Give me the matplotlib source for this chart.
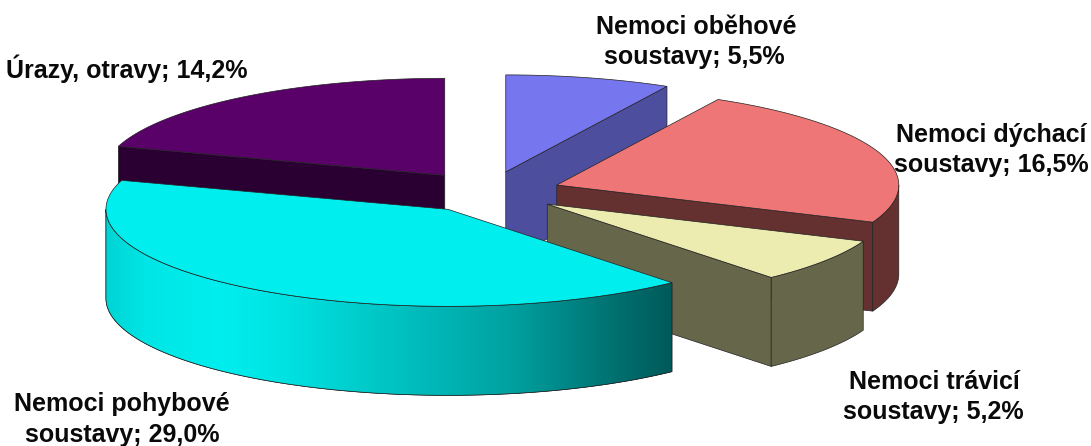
import numpy as np
import matplotlib
matplotlib.use('Agg')
import matplotlib.pyplot as plt
from matplotlib.colors import LinearSegmentedColormap
from matplotlib.patches import Polygon

# clockwise from 12 o'clock, drawing order is fixed below
names = ['Nemoci oběhové soustavy', 'Nemoci dýchací soustavy', 'Nemoci trávicí soustavy',
         'Nemoci pohybové soustavy', 'Úrazy, otravy']
values = [5.5, 16.5, 5.2, 29.0, 14.2]
top_colors = ['#7676EE', '#EE7676', '#ECECB0', '#00EEEE', '#590069']
side_colors = ['#4E4E9F', '#643030', '#66664A', '#007070', '#2A0033']
draw_order = [0, 4, 1, 2, 3]

# label lines and where they sit (pixels)
label_lines = [['Nemoci oběhové', 'soustavy; 5,5%'],
               ['Nemoci dýchací', 'soustavy; 16,5%'],
               ['Nemoci trávicí', 'soustavy; 5,2%'],
               ['Nemoci pohybové', 'soustavy; 29,0%'],
               ['Úrazy, otravy; 14,2%']]
label_pos = [[(696, 27), (694, 57)],
             [(991, 135), (991, 165)],
             [(934, 382), (933, 412)],
             [(122, 404), (122, 435)],
             [(127, 69)]]

CX, CY = 488, 192
A, B = 342, 97
DEPTH = 89
EXPLODE = 0.2136

wall_cmap = LinearSegmentedColormap.from_list('wall', [(0, '#00D4D4'), (0.07, '#00E6E6'), (0.2, '#00EEEE'),
                                                       (0.3, '#00E4E4'), (0.5, '#00C4C4'), (0.72, '#00A0A0'),
                                                       (0.9, '#007070'), (1, '#005A5A')])

fig = plt.figure(figsize=(10.91, 4.46), dpi=100)
ax = fig.add_axes([0, 0, 1, 1])


def arc(x0, y0, t1, t2, n=120):
    t = np.radians(np.linspace(t1, t2, n))
    return x0 + A*np.sin(t), y0 - B*np.cos(t)


angles = np.cumsum([0] + values) / sum(values) * 360
ec = '#222222'
z = 1
for i in draw_order:
    t1, t2 = angles[i], angles[i+1]
    mid = np.radians((t1 + t2) / 2)
    x0 = CX + EXPLODE*A*np.sin(mid)
    y0 = CY - EXPLODE*B*np.cos(mid)
    top_x, top_y = arc(x0, y0, t1, t2)

    # straight side walls
    for t, visible in [(t1, 180 < t1 < 360), (t2, 0 < t2 < 180)]:
        if visible:
            px, py = arc(x0, y0, t, t, 1)
            pts = [(x0, y0), (px[0], py[0]), (px[0], py[0]+DEPTH), (x0, y0+DEPTH)]
            ax.add_patch(Polygon(pts, fc=side_colors[i], ec=ec, lw=0.5, zorder=z))
            z += 1

    # outer wall, only the part facing us
    w1, w2 = max(t1, 90), min(t2, 270)
    if w1 < w2:
        wx, wy = arc(x0, y0, w1, w2)
        pts = np.r_[np.c_[wx, wy], np.c_[wx[::-1], wy[::-1]+DEPTH]]
        wall = Polygon(pts, fc=side_colors[i], ec=ec, lw=0.5, zorder=z)
        ax.add_patch(wall)
        if i == 3:
            # cyan slice has a shaded wall
            img = ax.imshow(np.linspace(0, 1, 256).reshape(1, -1), cmap=wall_cmap, aspect='auto',
                            extent=(wx.min(), wx.max(), 446, 0), zorder=z+0.5)
            img.set_clip_path(wall)
            ax.add_patch(Polygon(pts, fc='none', ec=ec, lw=0.5, zorder=z+0.6))
        z += 1

    # top face
    pts = np.r_[[(x0, y0)], np.c_[top_x, top_y]]
    ax.add_patch(Polygon(pts, fc=top_colors[i], ec=ec, lw=0.5, zorder=z))
    z += 1

for lines, pos in zip(label_lines, label_pos):
    for line, (x, y) in zip(lines, pos):
        ax.text(x, y, line, ha='center', va='center', fontsize=18, fontweight='bold',
                family=['Liberation Sans Narrow', 'Liberation Sans'], color='#0a0a0a', zorder=50)

ax.set_xlim(0, 1091)
ax.set_ylim(446, 0)
ax.axis('off')
fig.savefig('out.png', dpi=100)
